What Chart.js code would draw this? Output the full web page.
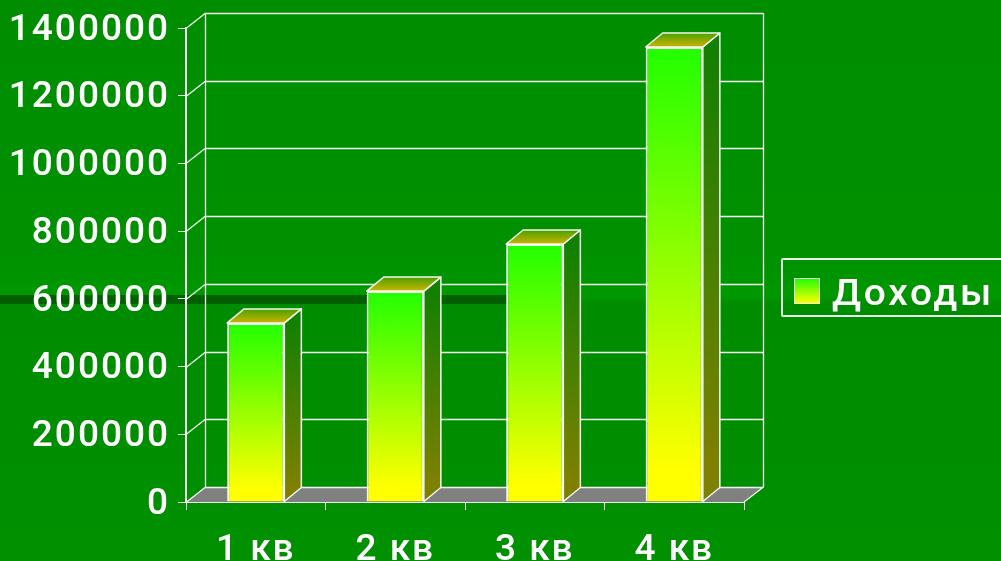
<!DOCTYPE html>
<html>
<head>
<meta charset="utf-8">
<script src="https://cdn.jsdelivr.net/npm/chart.js@4"></script>
<style>
    html, body { margin: 0; padding: 0; }
    body {
        width: 1001px; height: 561px; overflow: hidden; position: relative;
        background: linear-gradient(#008e00 0, #009000 250px, #009800 296px, #008c00 304px, #009000 561px);
        font-family: Roboto, sans-serif;
    }
    #band { position: absolute; left: 0; top: 295px; width: 510px; height: 9px; background: #006000; }
    #chartBox { position: absolute; left: 0; top: 0; width: 1001px; height: 561px; }
    #legend {
        position: absolute; left: 781px; top: 258px; width: 240px; height: 55px;
        border: 2px solid #e8f4e8; border-radius: 2px;
    }
    #legend i {
        position: absolute; left: 11px; top: 18px; width: 24px; height: 24px;
        background: linear-gradient(#22ff00, #ffff00); border: 1px solid #e8f4e8;
    }
    #legend span {
        position: absolute; left: 49px; top: 12px; color: #fff;
        font: 500 36px Roboto, sans-serif; letter-spacing: 2.5px; white-space: nowrap;
        transform: scaleX(1.08); transform-origin: left center;
    }
</style>
</head>
<body>
<div id="band"></div>
<div id="chartBox"><canvas id="chart" width="1001" height="561"></canvas></div>
<div id="legend"><i></i><span id="legendText"></span></div>
<script>
'use strict';

// Chart data
const quarters = ['1 кв', '2 кв', '3 кв', '4 кв'];
const income = [529000, 623000, 762000, 1344000];
const seriesName = 'Доходы';

const LINE = '#f0f8f0';
const DEPTH_X = 19, DEPTH_Y = 15;      // wall depth
const BAR_DX = 17, BAR_DY = 14;        // bar depth

document.getElementById('legendText').textContent = seriesName;

function poly(ctx, pts, fill, stroke, width) {
    ctx.beginPath();
    pts.forEach(([x, y], i) => i ? ctx.lineTo(x, y) : ctx.moveTo(x, y));
    ctx.closePath();
    if (fill) { ctx.fillStyle = fill; ctx.fill(); }
    if (stroke) { ctx.strokeStyle = stroke; ctx.lineWidth = width; ctx.stroke(); }
}

// Back walls, floor and the sides of the bars
const box3d = {
    id: 'box3d',
    beforeDraw(chart) {
        chart.ctx.letterSpacing = '2px';
    },
    beforeDatasetsDraw(chart) {
        const { ctx, chartArea: a, scales: { y } } = chart;
        ctx.save();
        ctx.lineJoin = 'round';

        // floor
        poly(ctx, [[a.left, a.bottom], [a.right, a.bottom], [a.right + DEPTH_X, a.bottom - DEPTH_Y], [a.left + DEPTH_X, a.bottom - DEPTH_Y]], '#808080');

        // grid lines on the side and back wall
        ctx.strokeStyle = LINE;
        ctx.lineWidth = 1.3;
        ctx.beginPath();
        y.ticks.forEach(t => {
            const py = Math.round(y.getPixelForValue(t.value)) + 0.5;
            ctx.moveTo(a.left, py);
            ctx.lineTo(a.left + DEPTH_X, py - DEPTH_Y);
            ctx.lineTo(a.right + DEPTH_X, py - DEPTH_Y);
        });
        ctx.moveTo(a.left + DEPTH_X + 0.5, a.top - DEPTH_Y);
        ctx.lineTo(a.left + DEPTH_X + 0.5, a.bottom - DEPTH_Y);
        ctx.moveTo(a.right + DEPTH_X + 0.5, a.top - DEPTH_Y);
        ctx.lineTo(a.right + DEPTH_X + 0.5, a.bottom - DEPTH_Y);
        ctx.lineTo(a.right, a.bottom);
        ctx.stroke();

        // side and top faces, taken from the bar elements
        chart.getDatasetMeta(0).data.forEach(bar => {
            const p = bar.getProps(['x', 'y', 'base', 'width'], true);
            const l = p.x - p.width / 2, r = p.x + p.width / 2;

            const side = ctx.createLinearGradient(0, p.y, 0, p.base);
            side.addColorStop(0, '#128000');
            side.addColorStop(0.93, '#808000');
            poly(ctx, [[r, p.y], [r + BAR_DX, p.y - BAR_DY], [r + BAR_DX, p.base - BAR_DY], [r, p.base]], side, LINE, 1.5);

            const top = ctx.createLinearGradient(0, p.y - BAR_DY, 0, p.y);
            top.addColorStop(0, '#4aa000');
            top.addColorStop(1, '#ccb400');
            poly(ctx, [[l, p.y], [l + BAR_DX, p.y - BAR_DY], [r + BAR_DX, p.y - BAR_DY], [r, p.y]], top, LINE, 1.5);
        });
        ctx.restore();
    }
};

function barGradient(context) {
    const { chart, dataIndex } = context;
    const y = chart.scales.y;
    if (!y || dataIndex === undefined) return '#22ff00';
    const y0 = y.getPixelForValue(income[dataIndex]);
    const y1 = y.getPixelForValue(0);
    if (!isFinite(y0) || !isFinite(y1)) return '#22ff00';
    const g = chart.ctx.createLinearGradient(0, y0, 0, y1);
    g.addColorStop(0, '#22ff00');
    g.addColorStop(0.93, '#ffff00');
    return g;
}

new Chart(document.getElementById('chart'), {
    type: 'bar',
    data: {
        labels: quarters,
        datasets: [{
            label: seriesName,
            data: income,
            backgroundColor: barGradient,
            borderColor: LINE,
            borderWidth: 2,
            categoryPercentage: 1,
            barPercentage: 0.41
        }]
    },
    options: {
        responsive: false,
        animation: false,
        layout: { padding: { top: 28, right: 257, bottom: 0, left: 0 } },
        plugins: { legend: { display: false }, tooltip: { enabled: false } },
        scales: {
            x: {
                grid: { offset: true, drawOnChartArea: false, color: LINE, tickLength: 8 },
                border: { color: LINE, width: 2 },
                ticks: { color: '#fff', padding: 19, maxRotation: 0, font: { family: 'Roboto', size: 37, weight: '500' } },
                afterFit(scale) { scale.height = 59; }
            },
            y: {
                min: 0,
                max: 1400000,
                grid: { drawOnChartArea: false, color: LINE, tickLength: 8 },
                border: { color: LINE, width: 2 },
                // empty first line + small lineHeight nudges the labels down a bit
                ticks: { color: '#fff', stepSize: 200000, padding: 8, callback: v => ['', String(v)], font: { family: 'Roboto', size: 37, weight: '500', lineHeight: '5px' } },
                afterFit(scale) { scale.width = 186; }
            }
        }
    },
    plugins: [box3d]
});
</script>
</body>
</html>
